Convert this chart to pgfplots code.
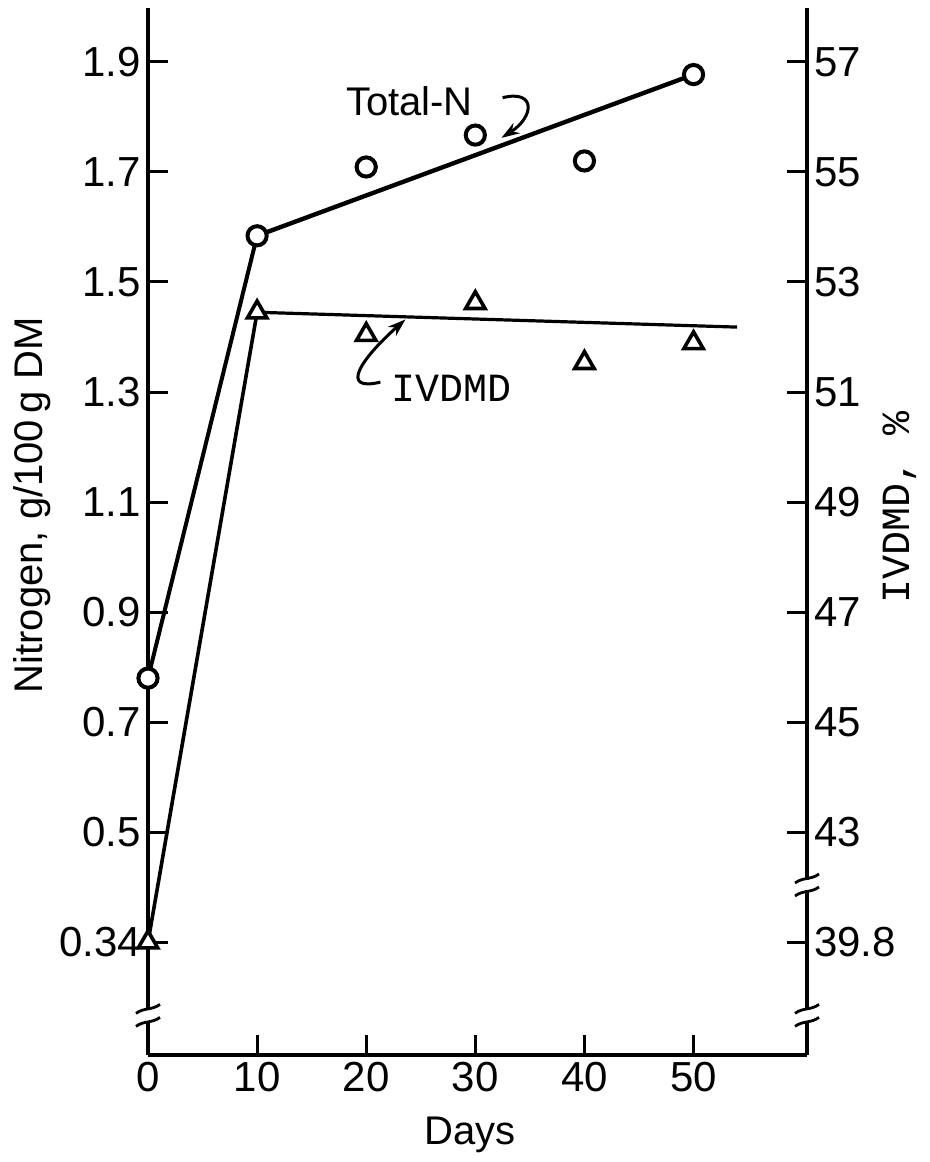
\documentclass[border=0pt]{standalone}
\usepackage{fontspec}
\setmainfont{Liberation Sans}
\newfontfamily\lmono{Liberation Mono}
\usepackage{pgfplots}
\pgfplotsset{compat=1.18}
\usetikzlibrary{arrows.meta}

% y values are in plot units of the left axis (0.2 per step);
% IVDMD %: plot = 1.9 - (57 - v)/10, and 39.8 sits at the 0.3 slot (broken axis)
\pgfplotsset{
  common/.style={
    scale only axis, width=329.5pt, height=523.5pt,
    xmin=0, xmax=60.4, ymin=0.095, ymax=1.998,
    axis line style={line width=1.8pt},
    tick align=inside, major tick length=10pt,
    tick style={line width=1.5pt, black},
    ytick={0.3,0.5,0.7,0.9,1.1,1.3,1.5,1.7,1.9},
    ticklabel style={font=\fontsize{21}{24}\selectfont},
    label style={font=\fontsize{20}{24}\selectfont},
    /pgf/number format/assume math mode=true,
    clip=false,
  },
}

\begin{document}
\begin{tikzpicture}
\useasboundingbox (-74pt,-53.5pt) rectangle (391pt,527.5pt);

\begin{axis}[
  common, name=main,
  axis x line*=bottom, axis y line*=left,
  xtick={0,10,20,30,40,50},
  yticklabels={0.34,0.5,0.7,0.9,1.1,1.3,1.5,1.7,1.9},
  xlabel={Days},
  ylabel={Nitrogen, g/100\,g DM},
  xlabel style={at={([yshift=-40pt]axis description cs:0.489,0)}, anchor=center},
  ylabel style={at={([xshift=-58pt]axis description cs:0,0.525)}, anchor=center},
]
% lines
\addplot[line width=2pt] coordinates {(0,0.78) (10,1.584)};
\addplot[line width=2.2pt] coordinates {(10,1.584) (50,1.877)};
\addplot[line width=1.8pt] coordinates {(0,0.3) (10,1.445)};
\addplot[line width=1.6pt] coordinates {(10,1.445) (54,1.418)};

% Total-N
\addplot[only marks, mark=*, mark size=4.8pt,
  mark options={line width=2pt, draw=black, fill=white}]
  coordinates {(0,0.78) (10,1.584) (20,1.709) (30,1.767) (40,1.72) (50,1.877)};
% IVDMD
\addplot[only marks, mark=triangle*, mark size=5.6pt,
  mark options={line width=1.8pt, draw=black, fill=white}]
  coordinates {(0,0.3) (10,1.445) (20,1.404) (30,1.462) (40,1.353) (50,1.389)};

\node[anchor=west, font=\fontsize{20}{24}\selectfont] at (axis cs:17.5,1.829) {Total-N};
\draw[line width=1.5pt, -{Stealth[length=9pt,width=6pt]}]
  (axis cs:32.5,1.835) .. controls (axis cs:35.6,1.85) and (axis cs:35.4,1.80) .. (axis cs:32.4,1.762);

\node[anchor=west, font=\lmono\fontsize{20}{24}\selectfont] at (axis cs:21.7,1.307) {IVDMD};
\draw[line width=1.5pt, -{Stealth[length=9pt,width=6pt]}]
  (axis cs:21.3,1.318) .. controls (axis cs:17.5,1.300) and (axis cs:19.5,1.36) .. (axis cs:23.6,1.432);

\coordinate (bL) at (axis cs:0,0.167);
\coordinate (bR1) at (axis cs:60.4,0.404);
\coordinate (bR2) at (axis cs:60.4,0.167);
\end{axis}

\begin{axis}[
  common,
  axis y line*=right, axis x line=none,
  yticklabels={39.8,43,45,47,49,51,53,55,57},
  ylabel={\lmono IVDMD, \%},
  ylabel style={at={([xshift=46.5pt]axis description cs:1,0.5225)}, anchor=center},
]
\end{axis}

% axis breaks
\foreach \p in {bL,bR1,bR2}{
  \begin{scope}[shift={(\p)}]
    \fill[white] (-3pt,-2.6pt) rectangle (3pt,2.6pt);
    \draw[line width=1.4pt] (-6pt,-5.5pt) .. controls (-2pt,-2.5pt) and (2pt,-4pt) .. (6pt,-1pt);
    \draw[line width=1.4pt] (-6pt,1pt) .. controls (-2pt,4pt) and (2pt,2.5pt) .. (6pt,5.5pt);
  \end{scope}
}
\end{tikzpicture}
\end{document}
